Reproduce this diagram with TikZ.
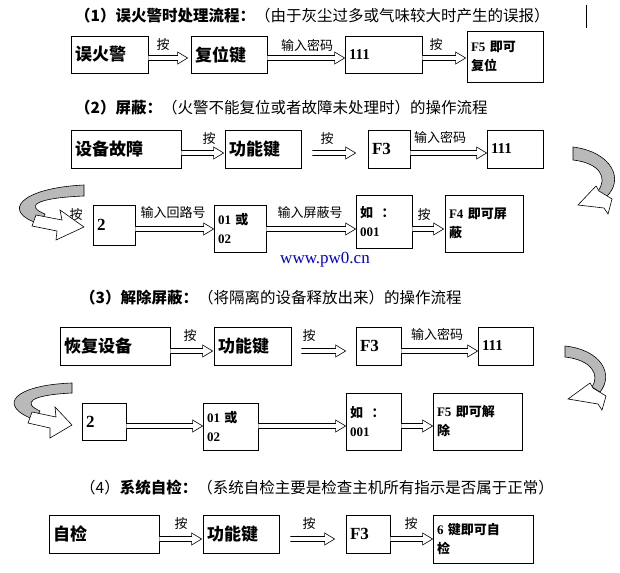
\documentclass[tikz,border=0pt]{standalone}
\usepackage{fontspec}
\setmainfont{Noto Sans CJK SC}
\newfontfamily\tm{Liberation Serif}
\usetikzlibrary{calc}
\tikzset{x=1pt,y=-1pt,
  box/.style={draw,line width=0.8pt,align=left,inner sep=4pt,font=\fontsize{13}{19}\selectfont\bfseries},
  big/.style={font=\fontsize{17}{20}\selectfont\bfseries},
  arr/.style={draw,line width=0.6pt,fill=white},
  lab/.style={font=\fontsize{13}{15}\selectfont,inner sep=0pt},
  ttl/.style={anchor=west,inner sep=0pt,font=\fontsize{15.5}{18}\selectfont},
  curve/.style={draw,line width=0.6pt,fill=gray!55},
  head/.style={draw,line width=0.6pt,fill=white}}
\newcommand\bx[7][]{\node[box,#1,minimum width={#5pt-#3pt},minimum height={#6pt-#4pt},text width={#5pt-#3pt-8pt}] (#2) at ({(#3+#5)/2},{(#4+#6)/2}) {#7};}
% hollow arrow: from, to, y, startgap, endgap
\newcommand\harr[5]{\draw[arr] ($(#1.east|-0,#3)+(#4,-2.5)$) -- ($(#2.west|-0,#3)+(-10-#5,-2.5)$) -- ($(#2.west|-0,#3)+(-10-#5,-6)$) -- ($(#2.west|-0,#3)+(-#5,0)$) -- ($(#2.west|-0,#3)+(-10-#5,6)$) -- ($(#2.west|-0,#3)+(-10-#5,2.5)$) -- ($(#1.east|-0,#3)+(#4,2.5)$);}
\begin{document}
\begin{tikzpicture}
\useasboundingbox[fill=white] (0,0) rectangle (620,572);
% titles
\node[ttl] (t1) at (75,16) {\textbf{（1）误火警时处理流程：}（由于灰尘过多或气味较大时产生的误报）};
\draw[line width=1pt] (586,5) -- (586,28);
\node[ttl] (t2) at (75,108) {\textbf{（2）屏蔽：}（火警不能复位或者故障未处理时）的操作流程};
\node[ttl] (t3) at (80,298) {\textbf{（3）解除屏蔽：}（将隔离的设备释放出来）的操作流程};
\node[ttl] (t4) at (80,488) {（4）\textbf{系统自检：}（系统自检主要是检查主机所有指示是否属于正常）};
\node[font=\tm\fontsize{17}{20}\selectfont,text=blue!80!black,inner sep=0pt] (wm) at (325,260) {www.pw0.cn};
% row 1
\bx[big]{a1}{71}{36}{148}{73}{误火警}
\bx[big]{a2}{191}{36}{267}{73}{复位键}
\bx{a3}{345}{36}{422}{73}{{\tm\fontsize{15}{18}\selectfont 111}\\[10pt]}
\bx{a4}{467}{31}{543}{82}{{\tm F5}\ 即可\\复位\\[4pt]}
\harr{a1}{a2}{58}{0}{3}
\harr{a2}{a3}{58}{0}{0}
\harr{a3}{a4}{58}{0}{1}
\node[lab] (l11) at (163,45) {按};
\node[lab] (l12) at (307,45) {输入密码};
\node[lab] (l13) at (436,45) {按};
% row 2
\bx[big]{b1}{71}{130}{181}{168}{设备故障}
\bx[big]{b2}{225}{130}{301}{168}{功能键}
\bx[big]{b3}{368}{130}{410}{168}{{\tm F3}}
\bx{b4}{487}{130}{543}{168}{{\tm\fontsize{15}{18}\selectfont 111}\\[10pt]}
\harr{b1}{b2}{153}{0}{1}
\harr{b2}{b3}{153}{11}{12}
\harr{b3}{b4}{153}{0}{0}
\node[lab] (l21) at (209,139) {按};
\node[lab] (l22) at (327,139) {按};
\node[lab] (l23) at (440,137) {输入密码};
% row 3
\bx[big]{c1}{93}{205}{135}{245}{{\tm 2}}
\bx{c2}{214}{205}{266}{252}{{\tm 01} 或\\{\tm 02}}
\bx{c3}{356}{195}{412}{248}{如\ \ ：\\{\tm 001}}
\bx{c4}{445}{195}{523}{252}{{\tm F4}\ 即可屏\\蔽\\[2pt]}
\harr{c1}{c2}{229}{0}{0}
\harr{c2}{c3}{229}{0}{0}
\harr{c3}{c4}{229}{0}{1}
\node[lab] (l30) at (76,215) {按};
\node[lab] (l31) at (173,213) {输入回路号};
\node[lab] (l32) at (310,213) {输入屏蔽号};
\node[lab] (l33) at (424,215) {按};
% curved arrows row2->row3
\draw[curve] (573,147) .. controls (612,152) and (625,180) .. (606,197) -- (598,191) .. controls (608,178) and (600,163) .. (573,160) -- cycle;
\draw[head] (596,186) -- (599,191) -- (612,199) -- (608,214) -- (604,208) -- (578,205) -- cycle;
\draw[curve] (84,185) .. controls (20,188) and (0,212) .. (40,224) -- (45,214) .. controls (25,206) and (35,198) .. (84,196) -- cycle;
\draw[head] (36,215) -- (62,220) -- (60,210) -- (84,227) -- (56,240) -- (57,231) -- (32,226) -- cycle;
% row 4 (section 3)
\bx[big]{d1}{60}{327}{170}{365}{恢复设备}
\bx[big]{d2}{214}{327}{291}{365}{功能键}
\bx[big]{d3}{356}{327}{401}{365}{{\tm F3}}
\bx{d4}{478}{327}{533}{365}{{\tm\fontsize{15}{18}\selectfont 111}\\[10pt]}
\harr{d1}{d2}{351}{0}{1}
\harr{d2}{d3}{351}{10}{10}
\harr{d3}{d4}{351}{0}{0}
\node[lab] (l41) at (190,336) {按};
\node[lab] (l42) at (309,336) {按};
\node[lab] (l43) at (437,334) {输入密码};
% row 5
\bx[big]{e1}{82}{403}{126}{440}{{\tm 2}}
\bx{e2}{203}{403}{258}{450}{{\tm 01} 或\\{\tm 02}}
\bx{e3}{346}{393}{401}{450}{如\ \ ：\\{\tm 001}}
\bx{e4}{433}{393}{522}{450}{{\tm F5}\ 即可解\\除\\[2pt]}
\harr{e1}{e2}{426}{0}{0}
\harr{e2}{e3}{426}{0}{0}
\harr{e3}{e4}{426}{0}{0}
\draw[curve] (565,346) .. controls (602,350) and (614,375) .. (600,392) -- (592,387) .. controls (600,375) and (592,360) .. (565,357) -- cycle;
\draw[head] (590,383) -- (593,388) -- (606,396) -- (602,410) -- (598,404) -- (568,399) -- cycle;
\draw[curve] (72,383) .. controls (15,385) and (-5,405) .. (35,420) -- (40,411) .. controls (22,403) and (30,395) .. (72,393) -- cycle;
\draw[head] (32,412) -- (56,417) -- (55,407) -- (72,425) -- (50,438) -- (50,428) -- (28,423) -- cycle;
% row 6 (section 4)
\bx[big]{f1}{49}{515}{159}{553}{自检}
\bx[big]{f2}{203}{515}{279}{553}{功能键}
\bx[big]{f3}{346}{515}{390}{553}{{\tm F3}}
\bx{f4}{433}{515}{533}{563}{{\tm 6}\ 键即可自\\检\\[2pt]}
\harr{f1}{f2}{539}{0}{1}
\harr{f2}{f3}{539}{11}{11}
\harr{f3}{f4}{539}{0}{0}
\node[lab] (l61) at (181,524) {按};
\node[lab] (l62) at (309,524) {按};
\node[lab] (l63) at (411,524) {按};
\end{tikzpicture}
\end{document}
